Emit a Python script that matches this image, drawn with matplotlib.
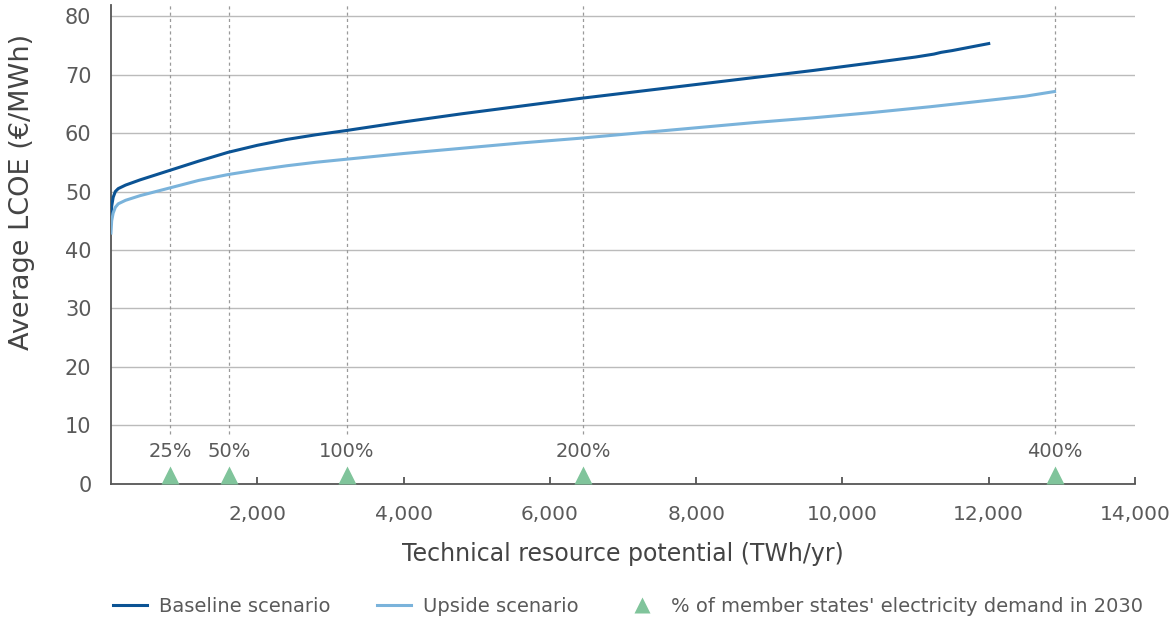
import matplotlib.pyplot as plt
from matplotlib.lines import Line2D

plt.rcParams['font.family'] = ['DejaVu Sans']

# supply curves (TWh/yr vs average LCOE)
base_x = [0, 10, 30, 60, 100, 200, 400, 800, 1200, 1600, 2000, 2400, 2800, 3200, 4000, 4800, 5600, 6400,
          7200, 8000, 8800, 9600, 10400, 11000, 11250, 11350, 11500, 11750, 12000]
base_y = [45.3, 47.5, 49.0, 50.0, 50.5, 51.1, 52.0, 53.6, 55.2, 56.7, 57.9, 58.9, 59.7, 60.4, 61.9, 63.3, 64.6, 65.9,
          67.1, 68.3, 69.5, 70.7, 72.0, 73.0, 73.5, 73.8, 74.1, 74.7, 75.3]
up_x = [0, 10, 30, 60, 100, 200, 400, 800, 1200, 1600, 2000, 2400, 2800, 3200, 4000, 4800, 5600, 6400,
        7200, 8000, 8800, 9600, 10400, 11200, 12000, 12500, 12900]
up_y = [42.9, 45.0, 46.3, 47.3, 47.9, 48.5, 49.3, 50.6, 51.9, 52.9, 53.7, 54.4, 55.0, 55.5, 56.5, 57.4, 58.3, 59.1,
        60.0, 60.9, 61.8, 62.6, 63.5, 64.5, 65.6, 66.3, 67.1]

# demand markers
demand_2030 = 3226
shares = [0.25, 0.5, 1, 2, 4]
share_labels = ['25%', '50%', '100%', '200%', '400%']

dark_blue = '#0b5394'
light_blue = '#7ab3db'
green = '#80c49b'
grey = '#5a5a5a'

fig = plt.figure(figsize=(11.74, 6.22), dpi=100)
ax = fig.add_axes((0.0945, 0.222, 0.8723, 0.770))

ax.set_xlim(0, 14000)
ax.set_ylim(0, 81.9)

for v in range(10, 90, 10):
    ax.axhline(v, color='#bbbbbb', lw=1, zorder=0)

for s, lab in zip(shares, share_labels):
    xv = s * demand_2030
    ax.plot([xv, xv], [8.6, 81.9], color='#9a9a9a', lw=0.9, ls=(0, (2.5, 2.5)), zorder=0)
    ax.text(xv, 5.5, lab, ha='center', va='center', fontsize=14, color=grey)
    ax.plot(xv, 1.45, marker='^', ms=13, color=green, mec='none', clip_on=False, zorder=3)

ax.plot(base_x, base_y, color=dark_blue, lw=2.2, zorder=4)
ax.plot(up_x, up_y, color=light_blue, lw=2.2, zorder=4)

ax.spines['right'].set_color('none')
ax.spines['top'].set_color('none')
for sp in ['left', 'bottom']:
    ax.spines[sp].set_color('#555555')
    ax.spines[sp].set_linewidth(1.3)

ax.set_xticks(range(2000, 16000, 2000))
ax.set_xticklabels(['{:,}'.format(t) for t in range(2000, 16000, 2000)])
ax.set_yticks(range(0, 90, 10))
ax.tick_params(axis='x', direction='in', length=5, width=1.3, color='#555555',
               pad=15, labelsize=14.5, labelcolor=grey)
ax.tick_params(axis='y', length=0, pad=14, labelsize=15, labelcolor=grey)

ax.set_xlabel('Technical resource potential (TWh/yr)', fontsize=17, color='#444444', labelpad=13)
ax.set_ylabel('Average LCOE (€/MWh)', fontsize=19.5, color='#444444')
ax.yaxis.set_label_coords(-0.074, 0.609)

handles = [
    Line2D([], [], color=dark_blue, lw=2.2),
    Line2D([], [], color=light_blue, lw=2.2),
    Line2D([], [], color=green, marker='^', ms=11, ls='none', mec='none'),
]
labels = ['Baseline scenario', 'Upside scenario', "% of member states' electricity demand in 2030"]
fig.legend(handles, labels, loc='lower center', bbox_to_anchor=(0.535, -0.018), ncol=3,
           frameon=False, handlelength=1.75, handletextpad=0.6, columnspacing=2.4,
           labelcolor=grey, prop={'size': 14})

fig.savefig('out.png', dpi=100)
